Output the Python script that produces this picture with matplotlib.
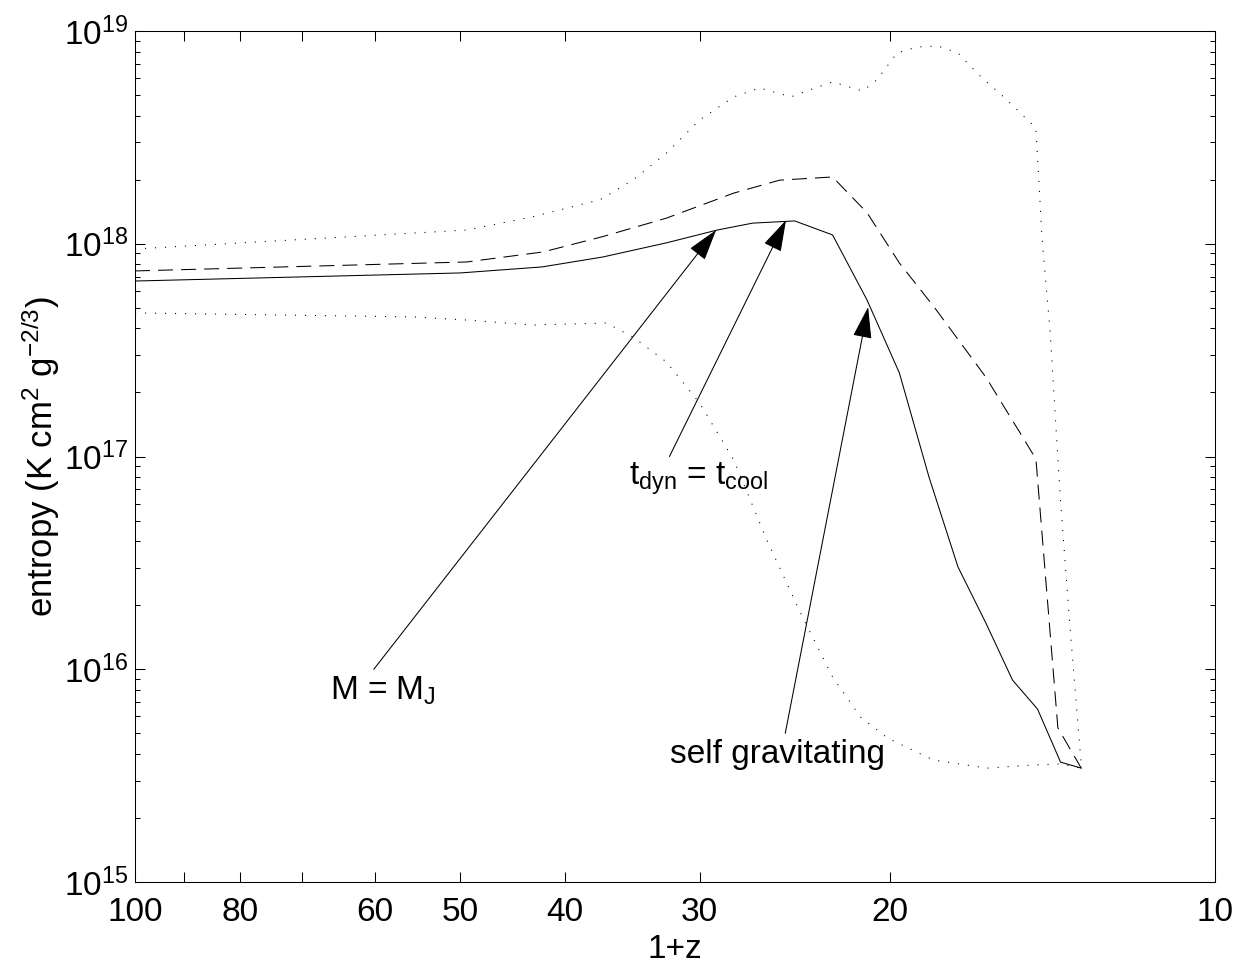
import matplotlib
matplotlib.use("Agg")
import matplotlib.pyplot as plt
from matplotlib.ticker import FixedLocator, FixedFormatter, NullLocator, LogLocator, LogFormatterSciNotation, NullFormatter

plt.rcParams['font.family'] = ['Liberation Sans', 'DejaVu Sans']
plt.rcParams['mathtext.fontset'] = 'custom'
plt.rcParams['mathtext.rm'] = 'Liberation Sans'
plt.rcParams['mathtext.it'] = 'Liberation Sans:italic'
plt.rcParams['mathtext.bf'] = 'Liberation Sans:bold'
plt.rcParams['lines.scale_dashes'] = False

# solid curve
z_solid = [100, 50, 42, 36.9, 32.2, 28.9, 26.8, 24.5, 22.6, 21.0, 19.6, 18.4,
           17.3, 16.3, 15.4, 14.6, 13.9, 13.3]
s_solid = [6.68e17, 7.29e17, 7.78e17, 8.66e17, 1.01e18, 1.16e18, 1.25e18, 1.28e18,
           1.10e18, 5.44e17, 2.47e17, 8.0e16, 3.03e16, 1.65e16, 8.9e15, 6.5e15,
           3.66e15, 3.43e15]

# dashed curve
z_dash = [100, 49.3, 41.9, 36.9, 32.2, 27.9, 25.3, 22.6, 21.0, 19.6, 18.2, 16.3,
          15.15, 14.65, 13.98, 13.3]
s_dash = [7.45e17, 8.21e17, 9.15e17, 1.08e18, 1.32e18, 1.73e18, 1.99e18, 2.06e18,
          1.40e18, 8.12e17, 5.04e17, 2.36e17, 1.29e17, 9.73e16, 5.3e15, 3.43e15]

# upper dotted curve
z_up = [100, 49.3, 42.8, 37.1, 34.6, 32.2, 30.0, 27.9, 26.4, 24.7, 23.6, 22.6,
        21.2, 20.56, 19.7, 18.87, 18.05, 17.3, 16.47, 15.65, 14.65, 14.46, 14.21,
        13.91, 13.62, 13.3]
s_up = [9.45e17, 1.16e18, 1.34e18, 1.61e18, 1.99e18, 2.67e18, 3.82e18, 4.90e18,
        5.40e18, 4.90e18, 5.34e18, 5.76e18, 5.22e18, 5.89e18, 7.88e18, 8.41e18,
        8.5e18, 7.88e18, 6.08e18, 4.84e18, 3.50e18, 1.06e18, 3.81e17, 6.45e16,
        1.56e16, 3.55e15]

# lower dotted curve
z_low = [100, 55.3, 49.3, 42.8, 36.6, 34.6, 32.2, 30.0, 27.9, 26.0, 24.2, 22.6,
         21.3, 20.1, 18.24, 16.26, 14.74, 13.91, 13.3]
s_low = [4.73e17, 4.53e17, 4.38e17, 4.15e17, 4.24e17, 3.65e17, 2.78e17, 1.78e17,
         9.63e16, 4.05e16, 1.84e16, 9.2e15, 5.97e15, 4.75e15, 3.75e15, 3.43e15,
         3.55e15, 3.59e15, 3.43e15]

# annotations: label, text position, arrow tail, arrow tip
notes = [
    (r'M = M$_{\mathrm{J}}$', (58.9, 7.17e15), (60.1, 1.0e16), (28.97, 1.16e18)),
    (r't$_{\mathrm{dyn}}$ = t$_{\mathrm{cool}}$', (30.1, 7.35e16), (32.0, 1.0e17), (24.96, 1.29e18)),
    ('self gravitating', (25.4, 3.63e15), (25.0, 5.0e15), (20.95, 5.04e17)),
]

xticks = [100, 90, 80, 70, 60, 50, 40, 30, 20, 10]
xticklabels = ['100', '', '80', '', '60', '50', '40', '30', '20', '10']

fig = plt.figure(figsize=(12.43, 9.68), dpi=100)
ax = fig.add_axes([0.1086, 0.0888, 0.8689, 0.8792])

lw = 0.75
ax.plot(z_solid, s_solid, color='k', lw=lw)
ax.plot(z_dash, s_dash, color='k', lw=lw, dashes=(10.8, 5.8))
ax.plot(z_up, s_up, color='k', lw=lw, linestyle=(0, (0.8, 6.4)))
ax.plot(z_low, s_low, color='k', lw=lw, linestyle=(0, (0.8, 6.4)))

for label, tpos, tail, tip in notes:
    ax.annotate('', xy=tip, xytext=tail,
                arrowprops=dict(arrowstyle='-|>,head_length=1.0,head_width=0.3',
                                mutation_scale=20, color='k', lw=lw,
                                shrinkA=0, shrinkB=0))
    ax.text(tpos[0], tpos[1], label, fontsize=24, ha='center', va='baseline')

ax.set_xscale('log')
ax.set_yscale('log')
ax.set_xlim(100, 10)
ax.set_ylim(1e15, 1e19)

ax.xaxis.set_major_locator(FixedLocator(xticks))
ax.xaxis.set_major_formatter(FixedFormatter(xticklabels))
ax.xaxis.set_minor_locator(NullLocator())
ax.yaxis.set_major_locator(LogLocator(base=10, numticks=10))
ax.yaxis.set_major_formatter(LogFormatterSciNotation())
ax.yaxis.set_minor_locator(LogLocator(base=10, subs=range(2, 10), numticks=10))
ax.yaxis.set_minor_formatter(NullFormatter())

ax.tick_params(which='both', direction='in', top=True, right=True, width=lw)
ax.tick_params(which='major', length=7.2, labelsize=24)
ax.tick_params(which='minor', length=3.6)
ax.tick_params(axis='x', which='major', pad=11)
ax.tick_params(axis='y', which='major', pad=5)

for sp in ax.spines.values():
    sp.set_linewidth(lw)

ax.set_xlabel('1+z', fontsize=24, labelpad=4)
ax.set_ylabel(r'entropy (K cm$^{2}$ g$^{-2/3}$)', fontsize=25, labelpad=1)

fig.savefig('out.png', dpi=100)
